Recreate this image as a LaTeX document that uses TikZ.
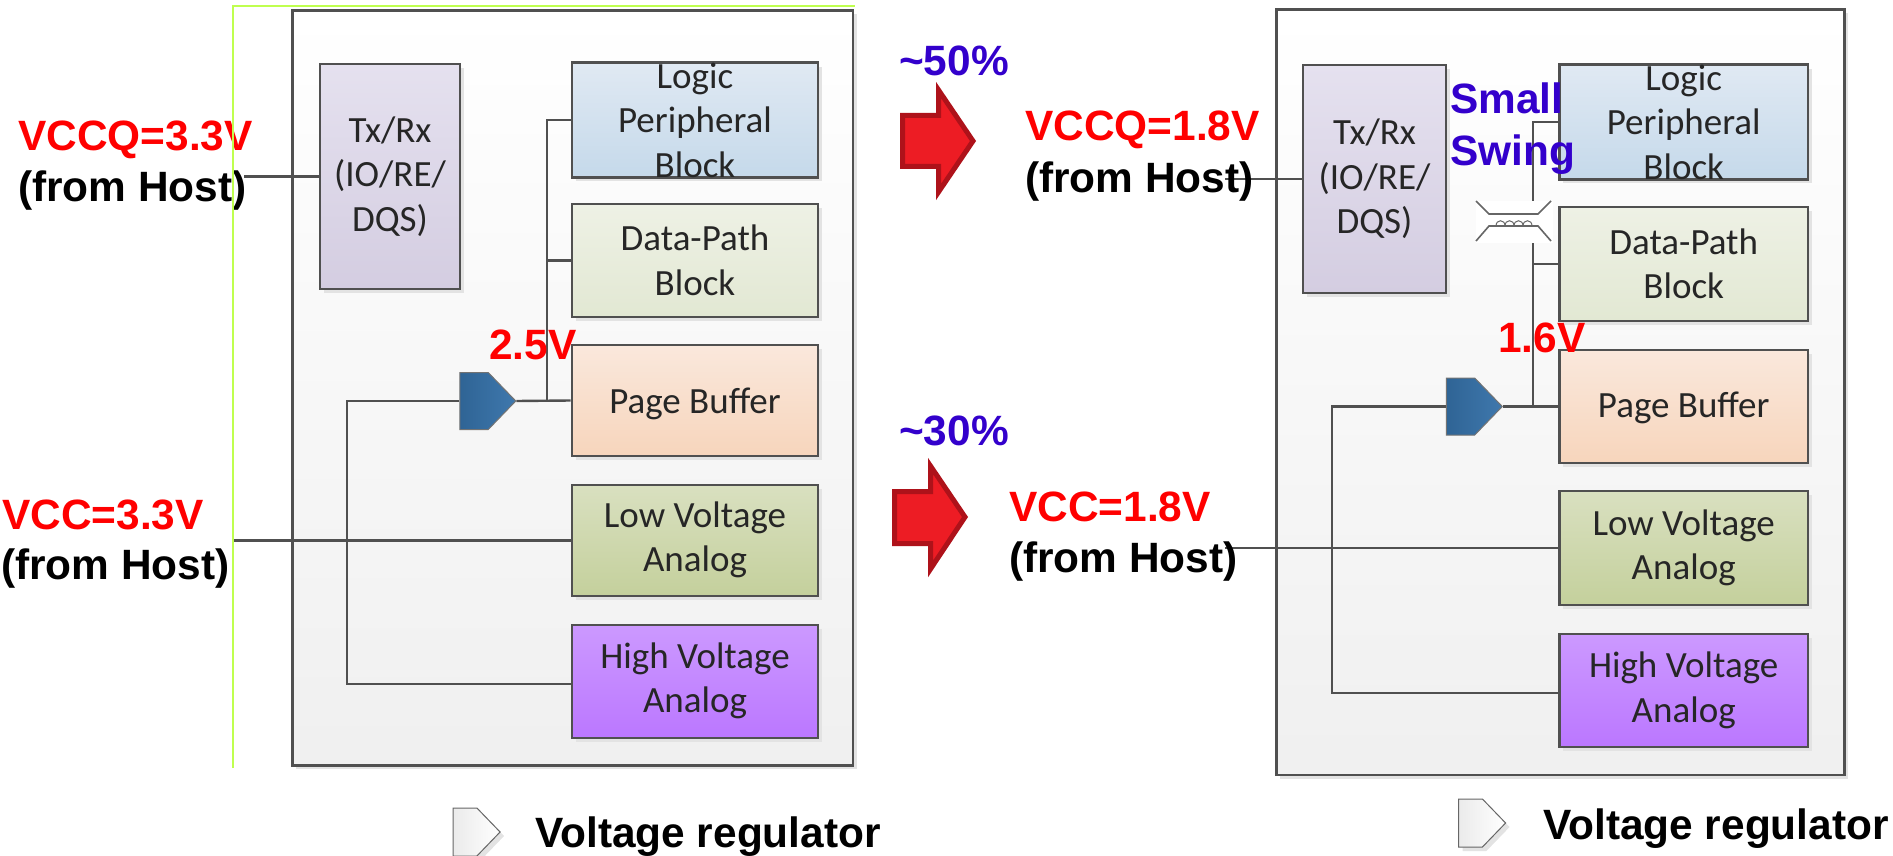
\documentclass[tikz,border=0pt]{standalone}
\usepackage{fontspec}
\setmainfont{Liberation Sans}
\newfontfamily\blockfont{Carlito}
\usetikzlibrary{shapes.symbols,shadows}
\definecolor{linegray}{HTML}{505050}
\definecolor{vred}{HTML}{FF0000}
\definecolor{vblue}{HTML}{3300CC}
\definecolor{arrowfill}{HTML}{ED1C24}
\definecolor{arrowedge}{HTML}{AE121A}
\definecolor{lime}{HTML}{BFFF4F}
\definecolor{reglight}{HTML}{2F6495}
\definecolor{regdark}{HTML}{3F78AD}
\definecolor{txT}{HTML}{E5E1EF}\definecolor{txB}{HTML}{D4CDE1}
\definecolor{loT}{HTML}{E0E9F3}\definecolor{loB}{HTML}{C5D9EA}
\definecolor{daT}{HTML}{EEF1E5}\definecolor{daB}{HTML}{E2E8D3}
\definecolor{paT}{HTML}{FAE8DC}\definecolor{paB}{HTML}{F7D5BC}
\definecolor{lvT}{HTML}{D9E0C0}\definecolor{lvB}{HTML}{C4D09C}
\definecolor{hvT}{HTML}{CC99FF}\definecolor{hvB}{HTML}{BB77FF}
\newcommand{\twolines}[3]{\raisebox{#1}{\begin{tabular}{@{}c@{}}#2\\#3\end{tabular}}}
\tikzset{
  x=1pt,y=-1pt,
  shadowed/.style={general shadow={shadow xshift=4pt,shadow yshift=-4pt,fill=black!11}},
  panel/.style={draw=linegray,line width=2.6pt,top color=white,bottom color=black!6,shadowed,inner sep=0pt,anchor=north west},
  blockbox/.style={draw=linegray,line width=2.6pt,inner sep=0pt,anchor=center,align=center,text=black!85,shadowed,
    font=\blockfont\fontsize{37}{44.5}\selectfont},
  wire/.style={draw=linegray,line width=2.4pt},
  lab/.style={inner sep=0pt,anchor=base west,font=\fontsize{42.4}{50}\selectfont\bfseries},
  redlab/.style={lab,text=vred},
  blacklab/.style={lab,text=black},
  bluelab/.style={lab,text=vblue},
  regul/.style={signal,signal to=east,signal from=nowhere,signal pointer angle=92,inner sep=0pt,
    minimum width=56pt,minimum height=57pt,draw=black!55,line width=1pt,left color=reglight,right color=regdark},
  legendshape/.style={signal,signal to=east,signal from=nowhere,signal pointer angle=92,inner sep=0pt,
    minimum width=47pt,minimum height=48pt,draw=black!60,line width=1pt,left color=black!8,right color=white,shadowed},
  bigarrow/.style={draw=arrowedge,fill=arrowfill,line width=5pt,miter limit=10},
  txblock/.style={blockbox,top color=txT,bottom color=txB},
  logicblock/.style={blockbox,top color=loT,bottom color=loB},
  datablock/.style={blockbox,top color=daT,bottom color=daB},
  pageblock/.style={blockbox,top color=paT,bottom color=paB},
  lowblock/.style={blockbox,top color=lvT,bottom color=lvB},
  highblock/.style={blockbox,top color=hvT,bottom color=hvB},
}
\begin{document}
\begin{tikzpicture}
\useasboundingbox (0,0) rectangle (1893,856);
% ---------- left panel
\node[panel,minimum width=560.5pt,minimum height=755pt] (panelL) at (291,9) {};
\node[txblock,minimum width=140pt,minimum height=225pt] (txL) at (390,176.5) {Tx/Rx\\(IO/RE/\\DQS)};
\node[logicblock,minimum width=246pt,minimum height=112pt] (logicL) at (695,120) {Logic\\Peripheral\\Block};
\node[datablock,minimum width=246pt,minimum height=113pt] (dataL) at (695,260.5) {Data-Path\\Block};
\node[pageblock,minimum width=246pt,minimum height=111pt,text height=33pt] (pageL) at (695,400.5) {Page Buffer};
\node[lowblock,minimum width=246pt,minimum height=111pt] (lowL) at (695,540.5) {\twolines{-2.5pt}{Low Voltage}{Analog}};
\node[highblock,minimum width=246pt,minimum height=113pt] (highL) at (695,681.5) {\twolines{-1.5pt}{High Voltage}{Analog}};
\node[regul] (regL) at (474,401) {};
\coordinate (hostQL) at (244,176.5);
\coordinate (hostVL) at (234,540.5);
\coordinate (busL) at (547,401);
\draw[wire] (hostQL) -- (txL.west);
\draw[wire] (hostVL) -- (lowL.west);
\draw[wire] (regL.east) -- (pageL.west);
\draw[wire] (busL) |- (logicL.west);
\draw[wire] (busL |- dataL.west) -- (dataL.west);
\draw[wire] (regL.west) -- (347,401) |- ([yshift=-2.5pt]highL.west);
% ---------- right panel
\node[panel,minimum width=568pt,minimum height=765.5pt] (panelR) at (1275,8) {};
\node[txblock,minimum width=143pt,minimum height=228pt] (txR) at (1374.5,179) {Tx/Rx\\(IO/RE/\\DQS)};
\node[logicblock,minimum width=248.5pt,minimum height=114pt] (logicR) at (1683.7,122) {Logic\\Peripheral\\Block};
\node[datablock,minimum width=248.5pt,minimum height=114pt] (dataR) at (1683.7,264) {Data-Path\\Block};
\node[pageblock,minimum width=248.5pt,minimum height=113pt,text height=29pt] (pageR) at (1683.7,406.5) {Page Buffer};
\node[lowblock,minimum width=248.5pt,minimum height=114pt] (lowR) at (1683.7,548) {Low Voltage\\Analog};
\node[highblock,minimum width=248.5pt,minimum height=113pt] (highR) at (1683.7,690.5) {High Voltage\\Analog};
\node[regul] (regR) at (1460.5,406.5) {};
\coordinate (hostQR) at (1225,179);
\coordinate (hostVR) at (1225,548);
\coordinate (busR) at (1533,406.5);
\draw[wire] (hostQR) -- (txR.west);
\draw[wire] (hostVR) -- (lowR.west);
\draw[wire] (regR.east) -- (pageR.west);
\draw[wire] (busR) |- (logicR.west);
\draw[wire] (busR |- dataR.west) -- (dataR.west);
\draw[wire] (regR.west) -- (1332,406.5) |- ([yshift=-2.5pt]highR.west);
% ---------- transformer symbol over the bus
\node[fill=white,inner sep=0pt,minimum width=77pt,minimum height=42pt] (xfmr) at (1514,222) {};
\draw[draw=black!60,line width=1.6pt] (1476,201) -- (1489,214) -- (1538,214) -- (1551,201);
\draw[draw=black!60,line width=1.6pt] (1476,241) -- (1489,226) -- (1538,226) -- (1551,241);
\foreach \cx in {1496,1505,1514,1523}
  \draw[draw=black!60,line width=1pt] (\cx,226) .. controls (\cx,219) and (\cx+9,219) .. (\cx+9,226);
% ---------- legend shapes
\node[legendshape] (legL) at (465,832) {};
\node[legendshape] (legR) at (1470.5,823) {};
% ---------- red arrows
\draw[bigarrow] (902.5,115.5) -- (938.5,115.5) -- (938.5,90) -- (973,141) -- (938.5,192) -- (938.5,166.5) -- (902.5,166.5) -- cycle;
\draw[bigarrow] (894.5,491.5) -- (930.5,491.5) -- (930.5,466) -- (965,517) -- (930.5,569) -- (930.5,543.5) -- (894.5,543.5) -- cycle;
% ---------- labels
\node[redlab] (l1) at (18,150) {VCCQ=3.3V};
\node[blacklab] (l2) at (18,201) {(from Host)};
\node[redlab] (l3) at (2,529) {VCC=3.3V};
\node[blacklab] (l4) at (1,579) {(from Host)};
\node[redlab] (l5) at (489,359) {2.5V};
\node[bluelab] (l6) at (899,76) {\textasciitilde 50\%};
\node[bluelab] (l7) at (899,445) {\textasciitilde 30\%};
\node[redlab] (l8) at (1025,141) {VCCQ=1.8V};
\node[blacklab] (l9) at (1025,192) {(from Host)};
\node[redlab] (l10) at (1009,521) {VCC=1.8V};
\node[blacklab] (l11) at (1009,572) {(from Host)};
\node[bluelab] (l12) at (1450,114) {Small};
\node[bluelab] (l13) at (1450,165) {Swing};
\node[redlab] (l14) at (1498,352) {1.6V};
\node[blacklab] (l15) at (535,847) {Voltage regulator};
\node[blacklab] (l16) at (1543,839) {Voltage regulator};
% ---------- lime frame lines
\draw[lime,line width=2pt] (232.5,768) -- (232.5,6) -- (855,6);
\end{tikzpicture}
\end{document}
